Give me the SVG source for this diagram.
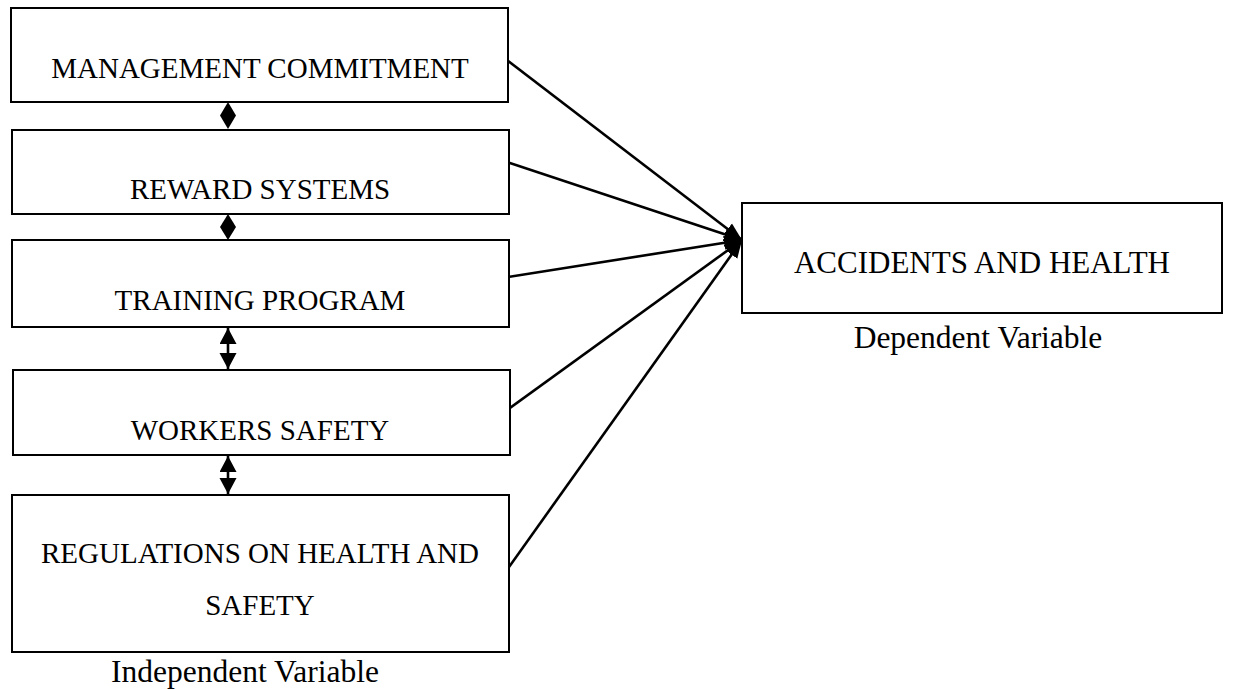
<svg xmlns="http://www.w3.org/2000/svg" width="1241" height="690" viewBox="0 0 1241 690">
  <defs>
    <style>
      .box { fill: #ffffff; stroke: #000000; stroke-width: 2; }
      .t { font-family: "Liberation Serif", "Times New Roman", serif; font-size: 29px; fill: #000000; text-anchor: middle; }
      .big { font-size: 31px; }
      .lbl { font-family: "Liberation Serif", "Times New Roman", serif; font-size: 31.5px; fill: #000000; text-anchor: middle; }
      .conn { stroke: #000000; stroke-width: 2.6; fill: none; }
      .head { fill: #000000; stroke: none; }
    </style>
    <marker id="arr" markerUnits="userSpaceOnUse" markerWidth="20" markerHeight="16" refX="18" refY="8" orient="auto">
      <path d="M0,1 L18,8 L0,15 Z" fill="#000000"/>
    </marker>
    <marker id="dbl" markerUnits="userSpaceOnUse" markerWidth="18" markerHeight="18" refX="16" refY="8.5" orient="auto-start-reverse">
      <path d="M0,0 L16,8.5 L0,17 Z" fill="#000000"/>
    </marker>
  </defs>

  <rect width="1241" height="690" fill="#ffffff"/>

  <g id="connectors">
    <path class="head" d="M228,102 L236,115.5 L228,129 L220,115.5 Z"/>
    <path class="head" d="M228,214 L236,227 L228,240 L220,227 Z"/>
    <line class="conn" x1="228" y1="328" x2="228" y2="369" marker-start="url(#dbl)" marker-end="url(#dbl)"/>
    <line class="conn" x1="228" y1="456" x2="228" y2="494" marker-start="url(#dbl)" marker-end="url(#dbl)"/>
    <line class="conn" x1="507" y1="60" x2="742" y2="240" marker-end="url(#arr)"/>
    <line class="conn" x1="507" y1="162" x2="742" y2="240" marker-end="url(#arr)"/>
    <line class="conn" x1="508" y1="277" x2="742" y2="240" marker-end="url(#arr)"/>
    <line class="conn" x1="507" y1="410" x2="742" y2="240" marker-end="url(#arr)"/>
    <line class="conn" x1="509" y1="567" x2="742" y2="240" marker-end="url(#arr)"/>
  </g>

  <g id="management">
    <rect class="box" x="11" y="8" width="497" height="94"/>
    <text class="t" x="260" y="78">MANAGEMENT COMMITMENT</text>
  </g>
  <g id="reward">
    <rect class="box" x="12" y="130" width="497" height="84"/>
    <text class="t" x="260" y="199">REWARD SYSTEMS</text>
  </g>
  <g id="training">
    <rect class="box" x="12" y="240" width="497" height="87"/>
    <text class="t" x="260" y="310">TRAINING PROGRAM</text>
  </g>
  <g id="workers">
    <rect class="box" x="13" y="370" width="497" height="85"/>
    <text class="t" x="260" y="440">WORKERS SAFETY</text>
  </g>
  <g id="regulations">
    <rect class="box" x="12" y="495" width="497" height="157"/>
    <text class="t" x="260" y="563">REGULATIONS ON HEALTH AND</text>
    <text class="t" x="260" y="615">SAFETY</text>
  </g>
  <g id="independent-label">
    <text class="lbl" x="245" y="682">Independent Variable</text>
  </g>
  <g id="accidents">
    <rect class="box" x="742" y="203" width="480" height="110"/>
    <text class="t big" x="982" y="273">ACCIDENTS AND HEALTH</text>
  </g>
  <g id="dependent-label">
    <text class="lbl" x="978" y="348">Dependent Variable</text>
  </g>
</svg>
